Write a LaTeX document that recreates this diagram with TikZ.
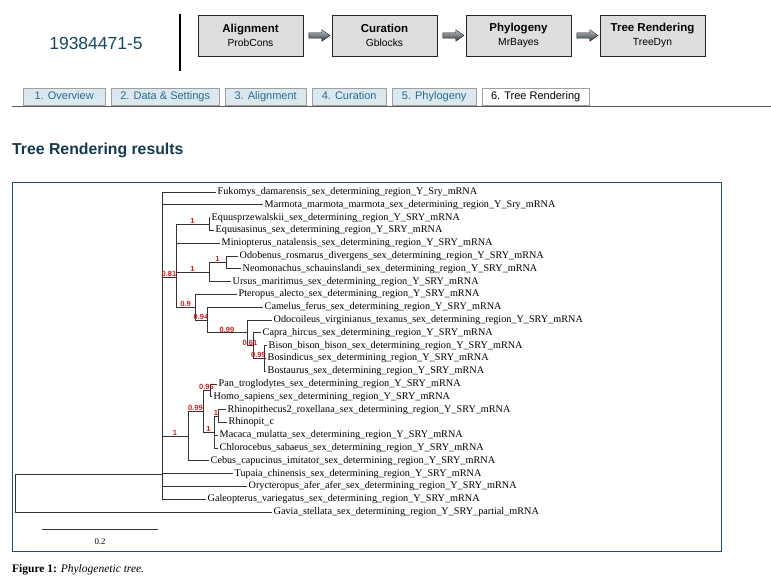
\documentclass[tikz,border=0pt]{standalone}
\usepackage{fontspec}
\setmainfont{Liberation Serif}
\setsansfont{Liberation Sans}
\usetikzlibrary{calc,shapes.arrows}

\definecolor{idblue}{HTML}{174764}
\definecolor{headblue}{HTML}{163A4E}
\definecolor{tabfill}{HTML}{DCE8EF}
\definecolor{tabtext}{HTML}{2A6A8C}
\definecolor{framecol}{HTML}{1F4E6B}
\definecolor{boxfill}{HTML}{DEDEDE}
\definecolor{arrowdark}{HTML}{22343C}
\definecolor{supred}{HTML}{D41E1E}

\tikzset{
  stepbox/.style={
    draw=black!85,
    fill=boxfill,
    minimum width=105pt,
    minimum height=41pt,
    inner sep=0pt,
    align=center,
    font=\sffamily\fontsize{10.3}{14.5}\selectfont
  },
  flow/.style={
    single arrow,
    draw=black!90,
    top color=gray!45,
    bottom color=arrowdark,
    minimum height=21pt,
    inner sep=2.5pt,
    single arrow head extend=3pt,
    single arrow tip angle=70
  },
  tab/.style={
    draw=gray!75,
    fill=tabfill,
    text=tabtext,
    minimum height=17pt,
    inner sep=0pt,
    text height=8pt,
    text depth=2pt,
    anchor=south west,
    font=\sffamily\fontsize{11}{13}\selectfont
  },
  leaf/.style={
    anchor=west,
    inner sep=1.5pt,
    font=\fontsize{10.2}{12}\selectfont
  },
  branch/.style={
    draw=black!80,
    line width=1pt
  },
  support/.style={
    anchor=south,
    inner sep=0pt,
    text=supred,
    font=\sffamily\bfseries\fontsize{7.5}{7.5}\selectfont
  }
}

\begin{document}
\begin{tikzpicture}[x=1pt,y=-1pt]
    \fill[white] (0,0) rectangle (771,582);
    \useasboundingbox (0,0) rectangle (771,582);

    % header
    \node[text=idblue, font=\sffamily\fontsize{17.5}{20}\selectfont] (runid) at (96,43) {19384471-5};
    \coordinate (sepa) at (180,14);
    \coordinate (sepb) at (180,71);
    \draw[line width=1.2pt] (sepa) -- (sepb);

    \node[stepbox] (align) at (250.5,35.5) {{\bfseries\fontsize{11.5}{14.5}\selectfont Alignment}\\ProbCons};
    \node[stepbox] (curat) at (384.5,35.5) {{\bfseries\fontsize{11.5}{14.5}\selectfont Curation}\\Gblocks};
    \node[stepbox] (phylo) at (518.5,35.5) {{\bfseries\fontsize{11.5}{14.5}\selectfont Phylogeny}\\MrBayes};
    \node[stepbox] (trend) at (652.5,35.5) {{\bfseries\fontsize{11.5}{14.5}\selectfont Tree Rendering}\\TreeDyn};
    \node[flow] (fa) at ($(align.east)!0.5!(curat.west)$) {};
    \node[flow] (fb) at ($(curat.east)!0.5!(phylo.west)$) {};
    \node[flow] (fc) at ($(phylo.east)!0.5!(trend.west)$) {};

    % tabs
    \node[tab, minimum width=82pt] (tabA) at (23,105) {1. Overview};
    \node[tab, minimum width=108pt] (tabB) at (111,105) {2. Data \& Settings};
    \node[tab, minimum width=81pt] (tabC) at (225,105) {3. Alignment};
    \node[tab, minimum width=74pt] (tabD) at (312,105) {4. Curation};
    \node[tab, minimum width=84pt] (tabE) at (392,105) {5. Phylogeny};
    \node[tab, minimum width=107pt, fill=white, text=black] (tabF) at (482,105) {6. Tree Rendering};
    \coordinate (rulea) at (12,106);
    \coordinate (ruleb) at (771,106);
    \draw[black!65, line width=0.9pt] (rulea) -- (ruleb);

    \node[anchor=west, inner sep=0pt, text=headblue, font=\sffamily\bfseries\fontsize{15.8}{18}\selectfont] (title) at (12,150) {Tree Rendering results};
    \draw[framecol, line width=1pt] (12,182) rectangle (721,551);

    % tree: internal nodes
    \coordinate (root) at (15,493);
    \coordinate (all) at (162,474);
    \coordinate (laur) at (176,277);
    \coordinate (equus) at (209,224);
    \coordinate (carn) at (209,272.2);
    \coordinate (pinn) at (226,262.4);
    \coordinate (scrot) at (195,307.2);
    \coordinate (cetart) at (207,320);
    \coordinate (rumin) at (247,332.8);
    \coordinate (bovid) at (253,345.6);
    \coordinate (bos) at (264,358.4);
    \coordinate (prim) at (188,436);
    \coordinate (catar) at (203,411.2);
    \coordinate (homin) at (210,390.4);
    \coordinate (cerco) at (214,432);
    \coordinate (rhino) at (218,416);

    % tree: leaves
    \node[leaf] (fuko) at (216,192.0) {Fukomys\_damarensis\_sex\_determining\_region\_Y\_Sry\_mRNA};
    \node[leaf] (marm) at (263,204.8) {Marmota\_marmota\_marmota\_sex\_determining\_region\_Y\_Sry\_mRNA};
    \node[leaf] (eqpr) at (210,217.6) {Equusprzewalskii\_sex\_determining\_region\_Y\_SRY\_mRNA};
    \node[leaf] (eqas) at (214,230.4) {Equusasinus\_sex\_determining\_region\_Y\_SRY\_mRNA};
    \node[leaf] (mini) at (220,243.2) {Miniopterus\_natalensis\_sex\_determining\_region\_Y\_SRY\_mRNA};
    \node[leaf] (odob) at (238,256.0) {Odobenus\_rosmarus\_divergens\_sex\_determining\_region\_Y\_SRY\_mRNA};
    \node[leaf] (neom) at (241,268.8) {Neomonachus\_schauinslandi\_sex\_determining\_region\_Y\_SRY\_mRNA};
    \node[leaf] (ursu) at (231,281.6) {Ursus\_maritimus\_sex\_determining\_region\_Y\_SRY\_mRNA};
    \node[leaf] (pter) at (237,294.4) {Pteropus\_alecto\_sex\_determining\_region\_Y\_SRY\_mRNA};
    \node[leaf] (came) at (263,307.2) {Camelus\_ferus\_sex\_determining\_region\_Y\_SRY\_mRNA};
    \node[leaf] (odoc) at (272,320.0) {Odocoileus\_virginianus\_texanus\_sex\_determining\_region\_Y\_SRY\_mRNA};
    \node[leaf] (capr) at (261,332.8) {Capra\_hircus\_sex\_determining\_region\_Y\_SRY\_mRNA};
    \node[leaf] (biso) at (267,345.6) {Bison\_bison\_bison\_sex\_determining\_region\_Y\_SRY\_mRNA};
    \node[leaf] (bosi) at (266,358.4) {Bosindicus\_sex\_determining\_region\_Y\_SRY\_mRNA};
    \node[leaf] (bost) at (266,371.2) {Bostaurus\_sex\_determining\_region\_Y\_SRY\_mRNA};
    \node[leaf] (pant) at (217,384.0) {Pan\_troglodytes\_sex\_determining\_region\_Y\_SRY\_mRNA};
    \node[leaf] (homo) at (212,396.8) {Homo\_sapiens\_sex\_determining\_region\_Y\_SRY\_mRNA};
    \node[leaf] (rhia) at (226,409.6) {Rhinopithecus2\_roxellana\_sex\_determining\_region\_Y\_SRY\_mRNA};
    \node[leaf] (rhic) at (227,422.4) {Rhinopit\_c};
    \node[leaf] (maca) at (218,435.2) {Macaca\_mulatta\_sex\_determining\_region\_Y\_SRY\_mRNA};
    \node[leaf] (chlo) at (218,448.0) {Chlorocebus\_sabaeus\_sex\_determining\_region\_Y\_SRY\_mRNA};
    \node[leaf] (cebu) at (209,460.8) {Cebus\_capucinus\_imitator\_sex\_determining\_region\_Y\_SRY\_mRNA};
    \node[leaf] (tupa) at (233,473.6) {Tupaia\_chinensis\_sex\_determining\_region\_Y\_SRY\_mRNA};
    \node[leaf] (oryc) at (247,486.4) {Orycteropus\_afer\_afer\_sex\_determining\_region\_Y\_SRY\_mRNA};
    \node[leaf] (gale) at (206,499.2) {Galeopterus\_variegatus\_sex\_determining\_region\_Y\_SRY\_mRNA};
    \node[leaf] (gavi) at (272,512.0) {Gavia\_stellata\_sex\_determining\_region\_Y\_SRY\_partial\_mRNA};

    % tree: branches
    \draw[branch] (root) |- (all);
    \draw[branch] (root) |- (gavi.west);
    \draw[branch] (all) |- (fuko.west);
    \draw[branch] (all) |- (marm.west);
    \draw[branch] (all) |- node[support, pos=0.75] (s081) {0.81} (laur);
    \draw[branch] (all) |- node[support, pos=0.75] (sprim) {1} (prim);
    \draw[branch] (all) |- (tupa.west);
    \draw[branch] (all) |- (oryc.west);
    \draw[branch] (all) |- (gale.west);
    \draw[branch] (laur) |- node[support, pos=0.75] (sequ) {1} (equus);
    \draw[branch] (laur) |- (mini.west);
    \draw[branch] (laur) |- node[support, pos=0.75] (scar) {1} (carn);
    \draw[branch] (laur) |- node[support, pos=0.75] (s09) {0.9} (scrot);
    \draw[branch] (equus) |- (eqpr.west);
    \draw[branch] (equus) |- (eqas.west);
    \draw[branch] (carn) |- node[support, pos=0.75] (spin) {1} (pinn);
    \draw[branch] (carn) |- (ursu.west);
    \draw[branch] (pinn) |- (odob.west);
    \draw[branch] (pinn) |- (neom.west);
    \draw[branch] (scrot) |- (pter.west);
    \draw[branch] (scrot) |- node[support, pos=0.75] (s094) {0.94} (cetart);
    \draw[branch] (cetart) |- (came.west);
    \draw[branch] (cetart) |- node[support, pos=0.75] (s099a) {0.99} (rumin);
    \draw[branch] (rumin) |- (odoc.west);
    \draw[branch] (rumin) |- node[support, pos=0.75] (s061) {0.61} (bovid);
    \draw[branch] (bovid) |- (capr.west);
    \draw[branch] (bovid) |- node[support, pos=0.75] (s099b) {0.99} (bos);
    \draw[branch] (bos) |- (biso.west);
    \draw[branch] (bos) |- (bosi.west);
    \draw[branch] (bos) |- (bost.west);
    \draw[branch] (prim) |- node[support, pos=0.75] (s099c) {0.99} (catar);
    \draw[branch] (prim) |- (cebu.west);
    \draw[branch] (catar) |- node[support, pos=0.75] (s096) {0.96} (homin);
    \draw[branch] (catar) |- node[support, pos=0.75] (scer) {1} (cerco);
    \draw[branch] (homin) |- (pant.west);
    \draw[branch] (homin) |- (homo.west);
    \draw[branch] (cerco) |- node[support, pos=0.75] (srhi) {1} (rhino);
    \draw[branch] (cerco) |- (maca.west);
    \draw[branch] (cerco) |- (chlo.west);
    \draw[branch] (rhino) |- (rhia.west);
    \draw[branch] (rhino) |- (rhic.west);

    % scale bar
    \coordinate (bara) at (42,529);
    \coordinate (barb) at (158,529);
    \draw[branch] (bara) -- (barb);
    \node[font=\fontsize{8.8}{10}\selectfont] (barlab) at (100,542) {0.2};

    \node[anchor=west, inner sep=0pt, font=\fontsize{11.5}{13}\selectfont] (caption) at (12,570) {\textbf{Figure 1:} \textit{Phylogenetic tree.}};
\end{tikzpicture}
\end{document}
